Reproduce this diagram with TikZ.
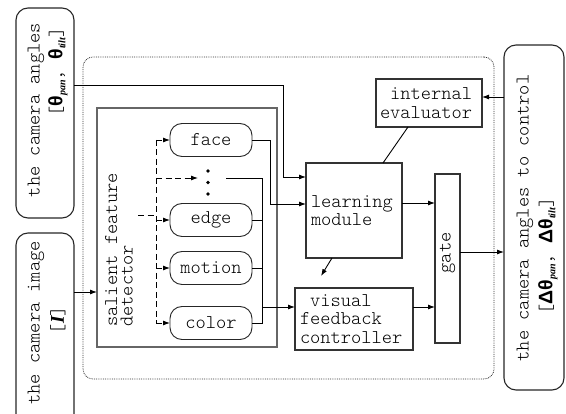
\documentclass[tikz,border=0pt]{standalone}
\usepackage{fontspec}
\usetikzlibrary{arrows.meta,calc}
\newfontfamily\cour{Latin Modern Mono Light}
\newfontfamily\lsans{Liberation Sans}
\newfontfamily\lserif{Liberation Serif}
\newcommand\thsub[1]{{\lsans\bfseries θ}\raisebox{-3pt}{\lserif\bfseries\itshape\fontsize{10}{10}\selectfont #1}}
\newcommand\dthsub[1]{{\lsans\bfseries Δθ}\raisebox{-3pt}{\lserif\bfseries\itshape\fontsize{10}{10}\selectfont #1}}
\begin{document}
\begin{tikzpicture}[x=1pt,y=-1pt,
  txt/.style={font=\cour\fontsize{19.5}{18.5}\selectfont, inner sep=0pt},
  bigbox/.style={draw=black!85, line width=1.1pt, rounded corners=12pt, inner sep=0pt, outer sep=0pt},
  box/.style={draw=black!80, line width=1.1pt, inner sep=0pt, outer sep=0pt, font=\cour\fontsize{19.5}{18.5}\selectfont},
  feat/.style={draw=black!85, line width=0.9pt, rounded corners=12pt, minimum width=82pt, minimum height=33pt, inner sep=0pt, outer sep=0pt, font=\cour\fontsize{19.5}{18.5}\selectfont},
  ln/.style={line width=0.9pt},
  conn/.style={line width=0.9pt, -{Latex[length=7pt,width=5pt]}},
  dsh/.style={line width=0.9pt, dash pattern=on 6pt off 3.5pt}]
\useasboundingbox (0,0) rectangle (566,414);
\clip (0,0) rectangle (566,414);

% outer boxes
\node[bigbox, minimum width=58pt, minimum height=210pt] (angles) at (45,113) {};
\node[bigbox, minimum width=58pt, minimum height=200pt] (image) at (45,333) {};
\node[bigbox, minimum width=60pt, minimum height=345pt] (control) at (534,217.5) {};
\node[txt, rotate=90] (angT1) at (36,110) {the camera angles};
\node[txt, rotate=90] (angT2) at (58,72) {[\thsub{pan}, \thsub{tilt}]};
\node[txt, rotate=90] (imgT1) at (36,323) {the camera image};
\node[txt, rotate=90] (imgT2) at (58,320) {[{\lserif\bfseries\itshape I}]};
\node[txt, rotate=90] (ctlT1) at (525,218) {the camera angles to control};
\node[txt, rotate=90] (ctlT2) at (548,256) {[\dthsub{pan}, \dthsub{tilt}]};

% dotted container
\node[draw=black!80, line width=0.8pt, densely dotted, rounded corners=10pt, minimum width=411pt, minimum height=322pt, inner sep=0pt] (cont) at (288.5,218) {};

% salient feature detector
\node[draw=black!60, line width=1.4pt, minimum width=180pt, minimum height=239pt, inner sep=0pt, outer sep=0pt] (det) at (187,227.5) {};
\node[txt, rotate=90, anchor=west, align=left, font=\cour\fontsize{19.5}{15.5}\selectfont] (detT) at (119,327) {salient feature\\detector};

\node[feat] (face) at (211,140) {face};
\node[feat] (edge) at (211,220) {edge};
\node[feat] (motion) at (211,268) {motion};
\node[feat] (color) at (211,323) {color};
\fill (208,171) circle (1.9pt);
\fill (208,182.5) circle (1.9pt);
\fill (208,194) circle (1.9pt);
\coordinate (dotsin) at (198,178);
\coordinate (dotsout) at (226,178);

% modules
\node[box, minimum width=96pt, minimum height=95pt, text width=86pt, align=left] (learn) at (354,210.5) {learning\\module};
\node[box, minimum width=106pt, minimum height=48pt, text width=98pt, align=left] (eval) at (429,103) {\hphantom{i}internal\\evaluator};
\node[box, minimum width=118pt, minimum height=62pt, text width=108pt, align=left] (vfc) at (354,319) {\hphantom{v}visual\\feedback\\controller};
\node[box, minimum width=25pt, minimum height=169pt] (gate) at (447.5,258.5) {};
\node[txt, rotate=90] (gateT) at (447.5,253) {gate};

% helper coordinates
\coordinate (dbus) at (156,0);
\coordinate (sbus) at (262,0);
\coordinate (y85) at (0,85);
\coordinate (y97) at (0,97);
\coordinate (y177) at (0,177);
\coordinate (y203) at (0,203);
\coordinate (y204) at (0,204);
\coordinate (y215) at (0,215);
\coordinate (y252) at (0,252);
\coordinate (y292) at (0,292);
\coordinate (y307) at (0,307);
\coordinate (din) at (138,215);

% input from camera image
\draw[conn] (image.east |- y292) -- (det.west |- y292);

% dashed distribution
\draw[dsh] (din) -- (dbus |- y215);
\draw[dsh] (dbus |- face.west) -- (dbus |- color.west);
\draw[dsh, conn] (dbus |- face.west) -- (face.west);
\draw[dsh, conn] (dbus |- dotsin) -- (dotsin);
\draw[dsh, conn] (dbus |- edge.west) -- (edge.west);
\draw[dsh, conn] (dbus |- motion.west) -- (motion.west);
\draw[dsh, conn] (dbus |- color.west) -- (color.west);

% outputs of features
\draw[conn] (face.east) -- (270,140) -- (270,204) -- (learn.west |- y204);
\draw[ln] (dotsout) -- (sbus |- dotsout) -- (sbus |- color.east) -- (color.east);
\draw[ln] (edge.east) -- (sbus |- edge.east);
\draw[ln] (motion.east) -- (sbus |- motion.east);
\draw[conn] (sbus |- y307) -- (vfc.west |- y307);

% camera angles to learning module
\draw[conn] (angles.east |- y85) -- (283,85) -- (283,177) -- (learn.west |- y177);

% evaluator and learning
\draw[conn] (control.west |- y97) -- (eval.east |- y97);
\draw[ln] ($(eval.south)+(-21,0)$) -- ($(learn.north)+(29,0)$);
\draw[conn] ($(learn.south)+(-22,0)$) -- ++(-11,18);

% to gate
\draw[conn] (learn.east |- y203) -- (gate.west |- y203);
\draw[conn] (vfc.east |- y307) -- (gate.west |- y307);
\draw[conn] (gate.east |- y252) -- (control.west |- y252);
\end{tikzpicture}
\end{document}
